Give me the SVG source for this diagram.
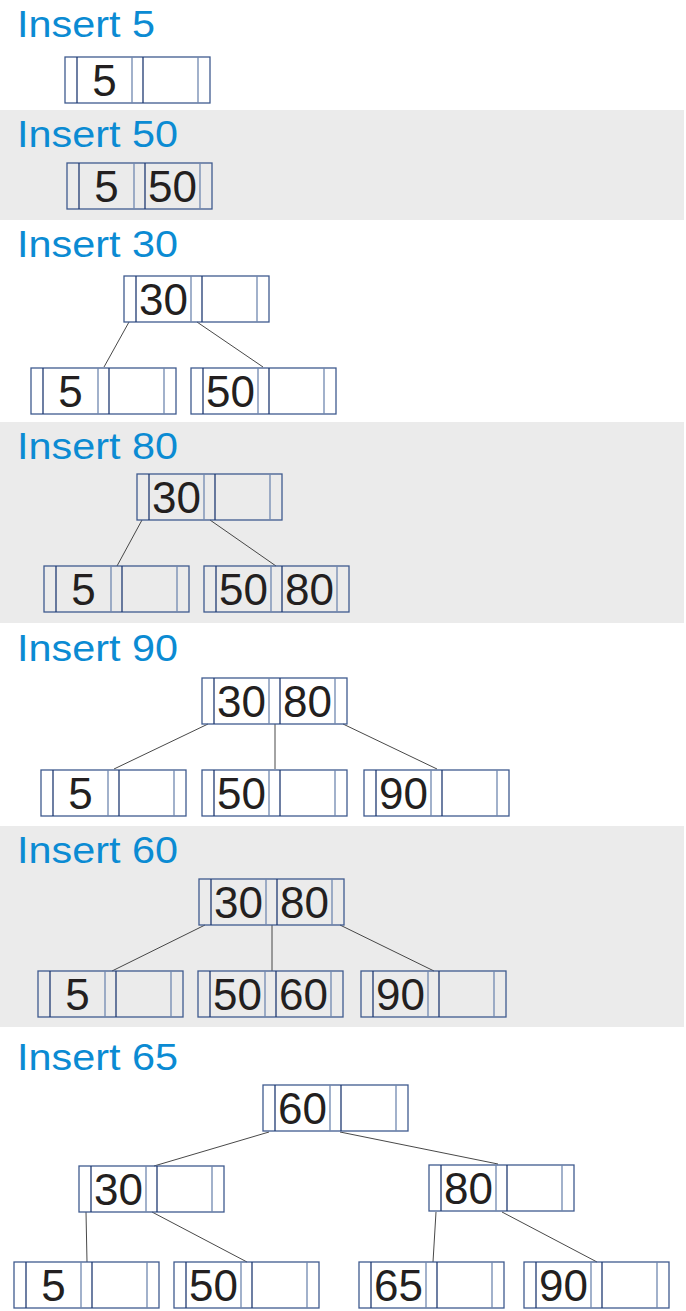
<svg xmlns="http://www.w3.org/2000/svg" xmlns:xlink="http://www.w3.org/1999/xlink" width="686" height="1311" viewBox="0 0 686 1311">
<style>
.band{fill:#ebebeb}
.title{font-family:"Liberation Sans",Arial,sans-serif;font-size:37px;fill:#0b8bd3}
.key{font-family:"Liberation Sans",Arial,sans-serif;font-size:44px;fill:#231f20;text-anchor:middle}
.outer{fill:none;stroke:#3f5b8f;stroke-width:1.3}
.dk{stroke:#1f3a72;stroke-width:1.3}
.lt{stroke:#7088b0;stroke-width:1.3}
.edge{stroke:#333;stroke-width:0.9;fill:none}
</style>
<defs>
<g id="nodeShape">
<rect class="outer" x="0" y="0" width="145" height="46"/>
<line class="dk" x1="12" y1="0" x2="12" y2="46"/>
<line class="lt" x1="67" y1="0" x2="67" y2="46"/>
<line class="dk" x1="78" y1="0" x2="78" y2="46"/>
<line class="lt" x1="133" y1="0" x2="133" y2="46"/>
</g>
</defs>
<rect width="686" height="1311" fill="#ffffff"/>
<rect class="band" x="0" y="110" width="684" height="110"/>
<rect class="band" x="0" y="422" width="684" height="201"/>
<rect class="band" x="0" y="826" width="684" height="201"/>

<g id="titles">
<text class="title" x="17" y="37" textLength="138" lengthAdjust="spacingAndGlyphs">Insert 5</text>
<text class="title" x="17" y="147" textLength="161" lengthAdjust="spacingAndGlyphs">Insert 50</text>
<text class="title" x="17" y="257" textLength="161" lengthAdjust="spacingAndGlyphs">Insert 30</text>
<text class="title" x="17" y="459" textLength="161" lengthAdjust="spacingAndGlyphs">Insert 80</text>
<text class="title" x="17" y="661" textLength="161" lengthAdjust="spacingAndGlyphs">Insert 90</text>
<text class="title" x="17" y="863" textLength="161" lengthAdjust="spacingAndGlyphs">Insert 60</text>
<text class="title" x="17" y="1070" textLength="161" lengthAdjust="spacingAndGlyphs">Insert 65</text>
</g>

<g id="connectors">
<line class="edge" x1="129" y1="322" x2="104" y2="367"/>
<line class="edge" x1="197" y1="322" x2="263" y2="367"/>
<line class="edge" x1="142" y1="520" x2="117" y2="566"/>
<line class="edge" x1="210" y1="520" x2="276" y2="566"/>
<line class="edge" x1="208" y1="724" x2="114" y2="769"/>
<line class="edge" x1="275" y1="724" x2="275" y2="769"/>
<line class="edge" x1="343" y1="724" x2="437" y2="769"/>
<line class="edge" x1="205" y1="925" x2="112" y2="971"/>
<line class="edge" x1="272" y1="925" x2="272" y2="971"/>
<line class="edge" x1="340" y1="925" x2="434" y2="971"/>
<line class="edge" x1="269" y1="1132" x2="154" y2="1166"/>
<line class="edge" x1="340" y1="1132" x2="498" y2="1164"/>
<line class="edge" x1="86" y1="1212" x2="87" y2="1262"/>
<line class="edge" x1="152" y1="1212" x2="247" y2="1262"/>
<line class="edge" x1="436" y1="1212" x2="433" y2="1262"/>
<line class="edge" x1="502" y1="1212" x2="597" y2="1262"/>
</g>

<g id="n1"><use xlink:href="#nodeShape" x="65" y="57"/><text class="key" x="104.5" y="96">5</text></g>

<g id="n2"><use xlink:href="#nodeShape" x="67" y="163"/><text class="key" x="106.5" y="202">5</text><text class="key" x="172.5" y="202">50</text></g>

<g id="n3root"><use xlink:href="#nodeShape" x="124" y="276"/><text class="key" x="163.5" y="315">30</text></g>
<g id="n3a"><use xlink:href="#nodeShape" x="31" y="368"/><text class="key" x="70.5" y="407">5</text></g>
<g id="n3b"><use xlink:href="#nodeShape" x="191" y="368"/><text class="key" x="230.5" y="407">50</text></g>

<g id="n4root"><use xlink:href="#nodeShape" x="137" y="474"/><text class="key" x="176.5" y="513">30</text></g>
<g id="n4a"><use xlink:href="#nodeShape" x="44" y="566"/><text class="key" x="83.5" y="605">5</text></g>
<g id="n4b"><use xlink:href="#nodeShape" x="204" y="566"/><text class="key" x="243.5" y="605">50</text><text class="key" x="309.5" y="605">80</text></g>

<g id="n5root"><use xlink:href="#nodeShape" x="202" y="678"/><text class="key" x="241.5" y="717">30</text><text class="key" x="307.5" y="717">80</text></g>
<g id="n5a"><use xlink:href="#nodeShape" x="41" y="770"/><text class="key" x="80.5" y="809">5</text></g>
<g id="n5b"><use xlink:href="#nodeShape" x="202" y="770"/><text class="key" x="241.5" y="809">50</text></g>
<g id="n5c"><use xlink:href="#nodeShape" x="364" y="770"/><text class="key" x="403.5" y="809">90</text></g>

<g id="n6root"><use xlink:href="#nodeShape" x="199" y="879"/><text class="key" x="238.5" y="918">30</text><text class="key" x="304.5" y="918">80</text></g>
<g id="n6a"><use xlink:href="#nodeShape" x="38" y="971"/><text class="key" x="77.5" y="1010">5</text></g>
<g id="n6b"><use xlink:href="#nodeShape" x="198" y="971"/><text class="key" x="237.5" y="1010">50</text><text class="key" x="303.5" y="1010">60</text></g>
<g id="n6c"><use xlink:href="#nodeShape" x="361" y="971"/><text class="key" x="400.5" y="1010">90</text></g>

<g id="n7root"><use xlink:href="#nodeShape" x="263" y="1085"/><text class="key" x="302.5" y="1124">60</text></g>
<g id="n7l"><use xlink:href="#nodeShape" x="79" y="1166"/><text class="key" x="118.5" y="1205">30</text></g>
<g id="n7r"><use xlink:href="#nodeShape" x="429" y="1165"/><text class="key" x="468.5" y="1204">80</text></g>
<g id="n7a"><use xlink:href="#nodeShape" x="14" y="1262"/><text class="key" x="53.5" y="1301">5</text></g>
<g id="n7b"><use xlink:href="#nodeShape" x="174" y="1262"/><text class="key" x="213.5" y="1301">50</text></g>
<g id="n7c"><use xlink:href="#nodeShape" x="359" y="1262"/><text class="key" x="398.5" y="1301">65</text></g>
<g id="n7d"><use xlink:href="#nodeShape" x="524" y="1262"/><text class="key" x="563.5" y="1301">90</text></g>
</svg>
